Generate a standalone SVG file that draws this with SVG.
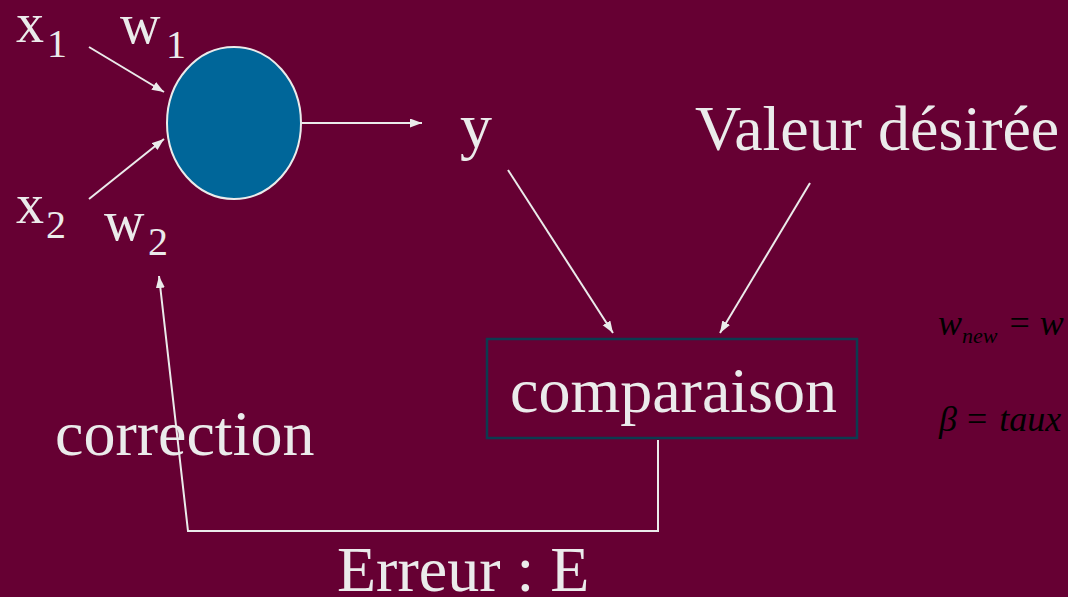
<svg xmlns="http://www.w3.org/2000/svg" width="1068" height="597" viewBox="0 0 1068 597">
  <defs>
    <marker id="arrow" markerWidth="13" markerHeight="10" refX="12" refY="4.5" orient="auto" markerUnits="userSpaceOnUse">
      <path d="M0,0 L12,4.5 L0,9 z" fill="#ebebeb"/>
    </marker>
    <style>
      .lbl { font-family: "Liberation Serif", "Times New Roman", serif; fill: #ebebeb; }
      .big { font-size: 64px; }
      .var { font-size: 56px; }
      .sub { font-size: 40px; }
      .eq { font-family: "Liberation Serif", "Times New Roman", serif; fill: #000000; font-style: italic; }
      .eqn { font-style: normal; }
      .conn { stroke: #ebebeb; stroke-width: 2; fill: none; }
      .flow { marker-end: url(#arrow); }
    </style>
  </defs>

  <rect x="0" y="0" width="1068" height="597" fill="#660033"/>

  <!-- connectors -->
  <g id="connectors">
    <line class="conn flow" x1="89" y1="47" x2="164" y2="92"/>
    <line class="conn flow" x1="89" y1="199" x2="164" y2="139"/>
    <line class="conn flow" x1="301" y1="123" x2="422" y2="123"/>
    <line class="conn flow" x1="508" y1="170" x2="613" y2="333"/>
    <line class="conn flow" x1="810" y1="183" x2="720" y2="333"/>
    <polyline class="conn flow" points="658,440 658,531 188,531 159,276"/>
  </g>

  <!-- neuron -->
  <g id="neuron">
    <ellipse cx="234" cy="123" rx="67" ry="76" fill="#006699" stroke="#ebebeb" stroke-width="2"/>
  </g>

  <!-- inputs and weights -->
  <g id="input-x1">
    <text class="lbl var" x="16" y="42">x</text>
    <text class="lbl sub" x="47" y="57">1</text>
  </g>
  <g id="weight-w1">
    <text class="lbl var" x="120" y="43">w</text>
    <text class="lbl sub" x="166" y="58">1</text>
  </g>
  <g id="input-x2">
    <text class="lbl var" x="16" y="223">x</text>
    <text class="lbl sub" x="46" y="238">2</text>
  </g>
  <g id="weight-w2">
    <text class="lbl var" x="104" y="240">w</text>
    <text class="lbl sub" x="148" y="255">2</text>
  </g>

  <!-- output -->
  <g id="output-y">
    <text class="lbl big" x="460" y="147">y</text>
  </g>
  <g id="target">
    <text class="lbl big" x="695" y="150">Valeur désirée</text>
  </g>

  <!-- comparison block -->
  <g id="comparaison">
    <rect x="487" y="339" width="370" height="99" fill="none" stroke="#0d3b50" stroke-width="2.5"/>
    <text class="lbl big" x="510" y="412">comparaison</text>
  </g>

  <g id="correction">
    <text class="lbl big" x="55" y="455">correction</text>
  </g>
  <g id="erreur">
    <text class="lbl big" x="337" y="591">Erreur : E</text>
  </g>

  <!-- update rule -->
  <g id="update-rule">
    <text class="eq" x="938" y="335" font-size="36">w<tspan font-size="22" dy="8">new</tspan><tspan class="eqn" dy="-8" dx="12">=</tspan><tspan dx="10">w</tspan></text>
    <text class="eq" x="939" y="431" font-size="36">β<tspan class="eqn" dx="10">=</tspan><tspan dx="12">taux</tspan></text>
  </g>
</svg>
